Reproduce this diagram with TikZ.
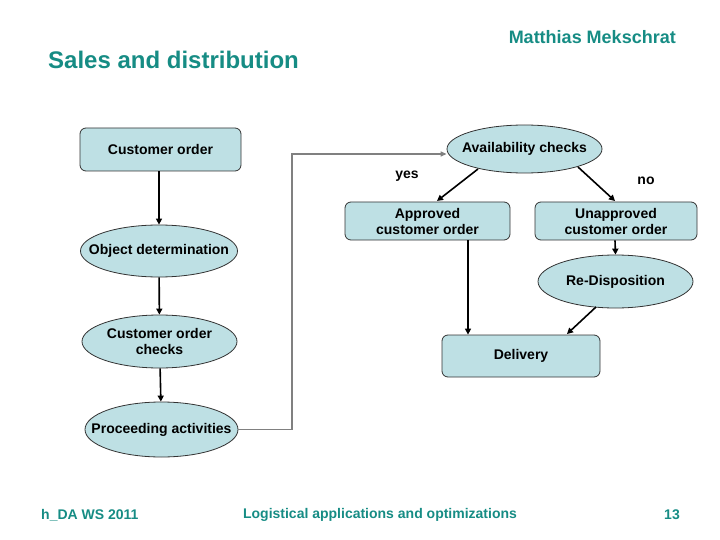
\documentclass[tikz,border=0pt]{standalone}
\usepackage{fontspec}
\setmainfont{Liberation Sans}
\usetikzlibrary{shapes.geometric,arrows.meta}
\definecolor{teal1}{RGB}{22,140,132}
\definecolor{fillb}{RGB}{190,224,228}
\tikzset{
  box/.style={draw=black!80, line width=0.8pt, fill=fillb, rounded corners=6pt, inner sep=0pt, font=\bfseries\fontsize{14}{16}\selectfont, align=center},
  oval/.style={draw=black!80, line width=0.8pt, fill=fillb, ellipse, inner sep=0pt, label={[lbl, align=center]center:#1}},
  arr/.style={draw=black, line width=1.6pt, -{Triangle[length=6pt,width=6pt]}},
  garr/.style={draw=gray, line width=1.2pt, -{Triangle[length=6pt,width=5pt]}},
  lbl/.style={font=\bfseries\fontsize{14}{16}\selectfont},
  hdr/.style={text=teal1, font=\bfseries\fontsize{#1}{#1}\selectfont, inner sep=0pt}
}
\begin{document}
\begin{tikzpicture}[x=1pt,y=-1pt]
\useasboundingbox (0,0) rectangle (720,540);
% headers
\node[hdr=24, anchor=west] (title) at (48,60) {Sales and distribution};
\node[hdr=18, anchor=east] (author) at (676,37) {Matthias Mekschrat};
\node[hdr=14, anchor=west] (f1) at (41,515) {h\_DA WS 2011};
\node[hdr=14] (f2) at (380,515) {Logistical applications and optimizations};
\node[hdr=14, anchor=east] (f3) at (680,515) {13};
% nodes
\node[box, minimum width=161pt, minimum height=43pt] (co) at (160.5,149.5) {Customer order};
\node[oval={Object determination}, minimum width=157pt, minimum height=52pt] (od) at (159,251) {};
\node[oval={Customer order\\checks}, minimum width=155pt, minimum height=53pt] (coc) at (159.5,341.5) {};
\node[oval={Proceeding activities}, minimum width=153pt, minimum height=55pt] (pa) at (161.5,429.5) {};
\node[oval={Availability checks}, minimum width=155pt, minimum height=48pt] (ac) at (524.5,149) {};
\node[box, minimum width=165pt, minimum height=38pt] (ap) at (427.5,221) {Approved\\customer order};
\node[box, minimum width=162pt, minimum height=38pt] (un) at (616,221) {Unapproved\\customer order};
\node[oval={Re-Disposition}, minimum width=155pt, minimum height=53pt] (rd) at (615.5,281.5) {};
\node[box, minimum width=158pt, minimum height=42pt] (dl) at (521,356) {Delivery};
\node[lbl] (yes) at (407,176) {yes};
\node[lbl] (no) at (646,181) {no};
% connectors
\draw[arr] (co.south -| 159,0) -- (od.north -| 159,0);
\draw[arr] (od) -- (coc);
\draw[arr] (coc) -- (pa);
\draw[garr] (pa.east) -- (292,429.5) -- (292,154) -- (ac.west |- 0,154);
\draw[arr] (478,169) -- (437,201);
\draw[arr] (578,167) -- (615,201);
\draw[arr] (ap.south -| 468,0) -- (dl.north -| 468,0);
\draw[arr] (un.south -| 615,0) -- (rd.north);
\draw[arr] (596,307) -- (567,334);
\end{tikzpicture}
\end{document}
